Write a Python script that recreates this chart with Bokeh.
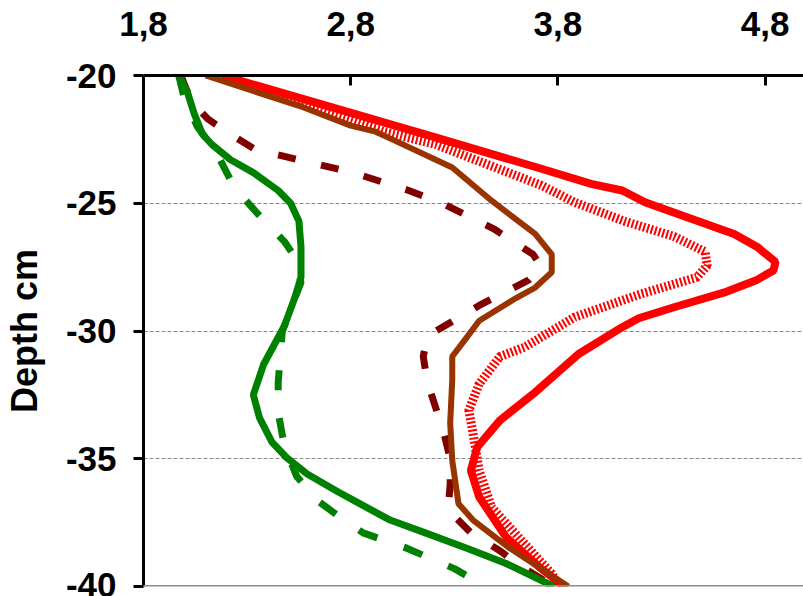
from bokeh.plotting import figure
from bokeh.models import Range1d, FixedTicker, CustomJSTickFormatter, Span
from bokeh.embed import file_html
from bokeh.resources import INLINE

# ---- data ----
x_ticks = [1.8, 2.8, 3.8, 4.8]
y_ticks = [-20, -25, -30, -35, -40]

# green solid
gs_depth = [-20, -20.6, -21.5, -22.3, -22.7, -23.3, -23.8, -24.5, -25.0, -25.7, -26.7, -27.9,
            -28.7, -29.8, -30.4, -31.3, -32.5, -33.4, -34.35, -34.95, -35.6, -36.3, -36.7,
            -37.4, -37.9, -38.5, -39.1, -40]
gs_x = [1.97, 2.01, 2.045, 2.085, 2.13, 2.22, 2.33, 2.45, 2.51, 2.55, 2.56, 2.56,
        2.53, 2.48, 2.44, 2.38, 2.33, 2.36, 2.42, 2.49, 2.59, 2.74, 2.83,
        2.99, 3.16, 3.36, 3.55, 3.78]

# green dashed
gd_depth = [-20, -21, -22, -23, -24.4, -25.4, -26.5, -27.1, -28.1, -30.0, -32.0, -33.2,
            -34.5, -35.7, -36.7, -37.3, -37.9, -38.5, -39.3, -40]
gd_x = [1.97, 2.0, 2.06, 2.15, 2.24, 2.35, 2.48, 2.53, 2.56, 2.47, 2.45, 2.45,
        2.48, 2.54, 2.65, 2.75, 2.86, 3.07, 3.3, 3.45]

# maroon dashed
md_depth = [-20, -21, -21.7, -22.3, -22.9, -23.3, -23.8, -24.5, -25.0, -26.0, -27.0, -27.5,
            -28.0, -29.0, -30.2, -31.0, -32.0, -33.0, -34.0, -35.0, -36.0, -37.0, -37.9,
            -38.6, -39.1, -40]
md_x = [1.98, 2.03, 2.11, 2.22, 2.34, 2.55, 2.81, 3.08, 3.24, 3.49, 3.68, 3.72,
        3.66, 3.42, 3.17, 3.15, 3.17, 3.21, 3.25, 3.28, 3.28, 3.27, 3.38,
        3.52, 3.6, 3.78]

# brown solid
br_depth = [-20, -21.24, -21.96, -22.2, -22.5, -23.6, -24.9, -26.2, -27.0, -27.7, -28.3,
            -28.7, -29.6, -30.25, -31.0, -31.9, -33.6, -35.07, -36.76, -37.4, -38.46, -40]
br_x = [2.10, 2.57, 2.80, 2.92, 3.0, 3.29, 3.48, 3.69, 3.77, 3.77, 3.69,
        3.6, 3.42, 3.36, 3.29, 3.29, 3.28, 3.29, 3.32, 3.39, 3.56, 3.85]

# red solid
rs_depth = [-20, -22.4, -23.65, -24.24, -24.5, -24.96, -25.6, -26.2, -26.7, -27.3, -27.63,
            -28.0, -28.5, -29.07, -29.5, -29.85, -30.9, -32.4, -33.5, -34.55, -35.46, -36.5,
            -38.07, -39.24, -40]
rs_x = [2.18, 3.2, 3.72, 3.96, 4.11, 4.22, 4.44, 4.65, 4.76, 4.85, 4.84,
        4.76, 4.60, 4.36, 4.19, 4.11, 3.90, 3.69, 3.52, 3.41, 3.38, 3.42,
        3.55, 3.71, 3.83]

# red checkered
rc_depth = [-20, -22.2, -22.7, -24.3, -24.96, -25.7, -26.3, -26.9, -27.44, -27.9, -28.55,
            -29.46, -29.85, -30.63, -31.0, -32.07, -33.1, -34.0, -35.46, -36.9, -38.07,
            -39.5, -40]
rc_x = [2.18, 2.96, 3.21, 3.72, 3.88, 4.12, 4.36, 4.51, 4.52, 4.47, 4.2,
        3.88, 3.80, 3.64, 3.52, 3.42, 3.37, 3.39, 3.42, 3.48, 3.61,
        3.77, 3.81]

FONT = "Liberation Sans"

p = figure(width=803, height=596,
           x_range=Range1d(1.8, 4.985), y_range=Range1d(-40, -20),
           x_axis_location="above",
           output_backend="svg", toolbar_location=None,
           min_border_left=139, min_border_top=75, min_border_bottom=10, min_border_right=0)
p.outline_line_color = None
p.background_fill_color = "white"
p.border_fill_color = "white"

# grid
p.xgrid.visible = False
p.ygrid.ticker = FixedTicker(ticks=[-25, -30, -35])
p.ygrid.grid_line_color = "#8c8c8c"
p.ygrid.grid_line_width = 1
p.ygrid.grid_line_dash = "4 2"

p.add_layout(Span(location=-40, dimension="width", line_color="#8c8c8c", line_width=3))

# top x axis
xa = p.xaxis[0]
xa.ticker = FixedTicker(ticks=x_ticks)
xa.formatter = CustomJSTickFormatter(code="return tick.toFixed(1).replace('.', ',');")
xa.major_label_text_font = FONT
xa.major_label_text_font_style = "bold"
xa.major_label_text_font_size = "35px"
xa.major_label_text_color = "black"
xa.major_tick_in = 10
xa.major_tick_out = 0
xa.minor_tick_line_color = None
xa.axis_line_width = 3
xa.major_tick_line_width = 3
xa.major_label_standoff = 40

# left y axis
ya = p.yaxis[0]
ya.ticker = FixedTicker(ticks=y_ticks)
ya.formatter = CustomJSTickFormatter(code="return tick.toFixed(0);")
ya.major_label_text_font = FONT
ya.major_label_text_font_style = "bold"
ya.major_label_text_font_size = "35px"
ya.major_label_text_color = "black"
ya.major_tick_in = 0
ya.major_tick_out = 10
ya.minor_tick_line_color = None
ya.axis_line_width = 3
ya.major_tick_line_width = 3
ya.major_label_standoff = 17
ya.axis_label = "Depth cm"
ya.axis_label_text_font = FONT
ya.axis_label_text_font_style = "bold"
ya.axis_label_text_font_size = "36px"
ya.axis_label_text_color = "black"
ya.axis_label_standoff = 18

# series (bottom to top)
p.line(rc_x, rc_depth, line_color="#FF0000", line_width=9, line_dash="2 2")
p.line(rs_x, rs_depth, line_color="#FF0000", line_width=8)
p.line(md_x, md_depth, line_color="#800000", line_width=7, line_dash="18 26")
p.line(br_x, br_depth, line_color="#993300", line_width=6)
p.line(gd_x, gd_depth, line_color="#008000", line_width=7, line_dash="20 28")
p.line(gs_x, gs_depth, line_color="#008000", line_width=7)

open("out.html", "w").write(file_html(p, INLINE))
